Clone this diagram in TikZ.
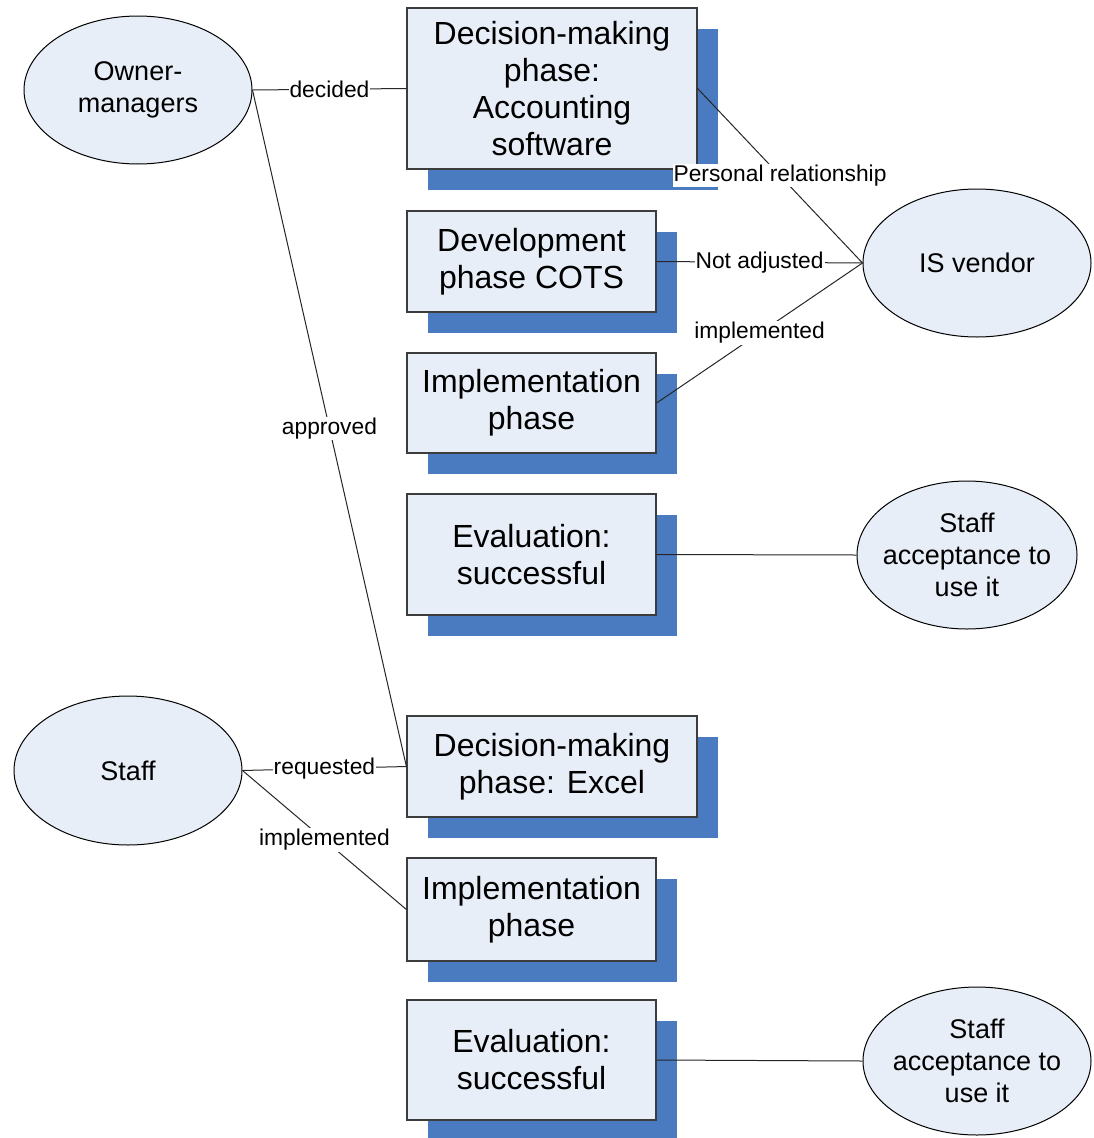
\documentclass[tikz,border=0pt]{standalone}
\usepackage{fontspec}
\setmainfont{Liberation Sans}
\usetikzlibrary{shadows,shapes.geometric}
\definecolor{boxfill}{RGB}{232,238,247}
\definecolor{shadowblue}{RGB}{74,123,192}
\definecolor{edgegray}{RGB}{60,60,60}
\begin{document}
\begin{tikzpicture}[x=1pt,y=-1pt,
  phase/.style={rectangle, draw=edgegray, line width=1.2pt, fill=boxfill, align=center,
    inner sep=0pt, font=\fontsize{32}{37}\selectfont,
    drop shadow={shadow xshift=21pt, shadow yshift=-21pt, fill=shadowblue, opacity=1}},
  actor/.style={ellipse, draw=black, line width=1pt, fill=boxfill, inner sep=0pt,
    minimum width=228pt, minimum height=148pt},
  actortext/.style={align=center, inner sep=0pt, font=\fontsize{27}{32}\selectfont},
  link/.style={draw=black!85, line width=1pt},
  lbl/.style={fill=white, inner sep=1pt, font=\fontsize{22.8}{26}\selectfont}]
\useasboundingbox (0,0) rectangle (1094,1138);

% phase boxes
\node[phase, minimum width=290pt, minimum height=161pt] (b1) at (552,88.5)
  {Decision-making\\phase:\\Accounting\\software};
\node[phase, minimum width=249pt, minimum height=101pt] (b2) at (531.5,261.5)
  {Development\\phase COTS};
\node[phase, minimum width=249pt, minimum height=100pt] (b3) at (531.5,403)
  {Implementation\\phase};
\node[phase, minimum width=249pt, minimum height=121pt] (b4) at (531.5,554.5)
  {Evaluation:\\successful};
\node[phase, minimum width=290pt, minimum height=101pt] (b5) at (552,766.5)
  {Decision-making\\phase: Excel};
\node[phase, minimum width=249pt, minimum height=103pt] (b6) at (531.5,909.5)
  {Implementation\\phase};
\node[phase, minimum width=249pt, minimum height=120pt] (b7) at (531.5,1060)
  {Evaluation:\\successful};

% actors
\node[actor, label={[actortext]center:Owner-\\managers}] (om) at (138,90) {};
\node[actor, label={[actortext]center:IS vendor}] (isv) at (977,263) {};
\node[actor, minimum width=220pt, label={[actortext]center:Staff\\acceptance to\\use it}] (sa1) at (967,555) {};
\node[actor, minimum height=149pt, label={[actortext]center:Staff}] (staff) at (128,770.5) {};
\node[actor, label={[actortext]center:Staff\\acceptance to\\use it}] (sa2) at (977,1061) {};

% connectors
\draw[link] (om.east) -- node[lbl, midway] {decided} (b1.west);
\draw[link] (om.east) -- node[lbl, midway] {approved} (b5.west);
\draw[link] (b1.east) -- node[lbl, midway] {Personal relationship} (isv.west);
\draw[link] (b2.east) -- node[lbl, midway] {Not adjusted} (isv.west);
\draw[link] (b3.east) -- node[lbl, midway] {implemented} (isv.west);
\draw[link] (b4.east) -- (sa1.west);
\draw[link] (staff.east) -- node[lbl, midway] {requested} (b5.west);
\draw[link] (staff.east) -- node[lbl, midway] {implemented} (b6.west);
\draw[link] (b7.east) -- (sa2.west);
\end{tikzpicture}
\end{document}
